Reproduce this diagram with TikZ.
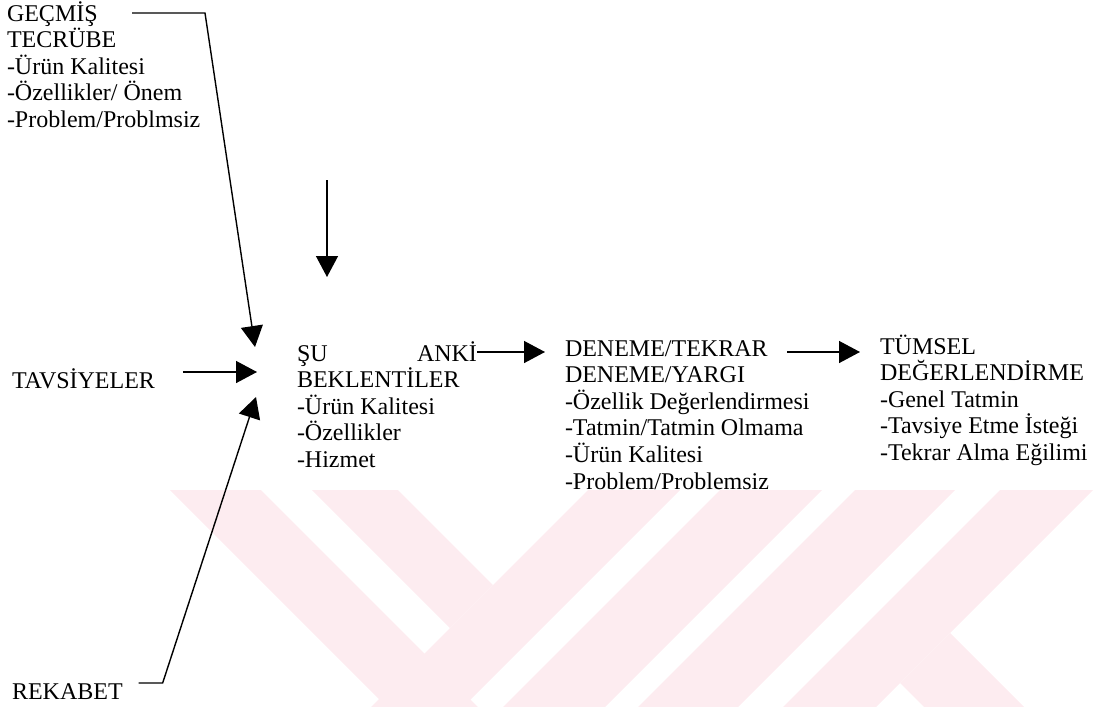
\documentclass[tikz,border=0pt]{standalone}
\usepackage{fontspec}
\setmainfont{Liberation Serif}
\usepackage{xcolor}
\usepackage{tikz}
\usetikzlibrary{arrows.meta,calc}

\definecolor{wmpink}{RGB}{253,236,240}
\newcommand{\capstrut}{\rule{0pt}{10pt}}
\tikzset{
    block/.style={align=left, inner sep=0pt, outer sep=0pt, anchor=north west, font=\fontsize{12}{13.3}\selectfont},
    flow/.style={line width=0.7pt, -{Triangle[length=10.5pt,width=11pt]}},
    band/.style={fill=wmpink, draw=none}
}

\begin{document}
\begin{tikzpicture}[x=0.5pt, y=-0.5pt]
    \useasboundingbox (0,0) rectangle (1093,707);

    % watermark
    \path [band] (170,490) -- (261,490) -- (478,707) -- (387,707) -- cycle;
    \path [band] (312,490) -- (398,490) -- (493,585) -- (450,628) -- cycle;
    \path [band] (588,490) -- (680,490) -- (463,707) -- (371,707) -- cycle;
    \path [band] (720,490) -- (822,490) -- (605,707) -- (503,707) -- cycle;
    \path [band] (855,490) -- (955,490) -- (738,707) -- (638,707) -- cycle;
    \path [band] (1000,490) -- (1093,490) -- (876,707) -- (783,707) -- cycle;
    \path [band] (950,633) -- (1024,707) -- (924,707) -- (900,683) -- cycle;

    % sources
    \node [block] (gecmis) at (7,1) {\capstrut GEÇMİŞ\\ TECRÜBE\\ -Ürün Kalitesi\\ -Özellikler/ Önem\\ -Problem/Problmsiz};
    \node [block] (tavsiye) at (12,368) {\capstrut TAVSİYELER};
    \node [block] (rekabet) at (12,679) {\capstrut REKABET};

    % stages
    \node [block] (su) at (297,341) {\capstrut\makebox[90pt][l]{ŞU\hfill ANKİ}\\ BEKLENTİLER\\ -Ürün Kalitesi\\ -Özellikler\\ -Hizmet};
    \node [block] (deneme) at (565,336) {\capstrut DENEME/TEKRAR\\ DENEME/YARGI\\ -Özellik Değerlendirmesi\\ -Tatmin/Tatmin Olmama\\ -Ürün Kalitesi\\ -Problem/Problemsiz};
    \node [block] (tumsel) at (880,334) {\capstrut TÜMSEL\\ DEĞERLENDİRME\\ -Genel Tatmin\\ -Tavsiye Etme İsteği\\ -Tekrar Alma Eğilimi};

    \coordinate (in1) at ($(su.north west)+(-42,6)$);
    \coordinate (in2) at ($(su.north west)+(-40,31)$);
    \coordinate (in3) at ($(su.north west)+(-41,56)$);
    \coordinate (vtop) at ($(su.north west)+(30,-161)$);
    \coordinate (vend) at ($(su.north west)+(30,-64)$);

    \draw [flow] ([shift={(125,12)}]gecmis.north west) -- ++(73,0) -- (in1);
    \draw [flow] ([shift={(28,4)}]tavsiye.north east) -- (in2);
    \draw [flow] ([shift={(16,4)}]rekabet.north east) -- ++(24,0) -- (in3);
    \draw [flow] (vtop) -- (vend);

    \draw [flow] ($(su.north east)+(0,11)$) -- ($(deneme.north west)+(-20,16)$);
    \draw [flow] ($(deneme.north west)+(222,16)$) -- ($(tumsel.north west)+(-20,18)$);
\end{tikzpicture}
\end{document}
